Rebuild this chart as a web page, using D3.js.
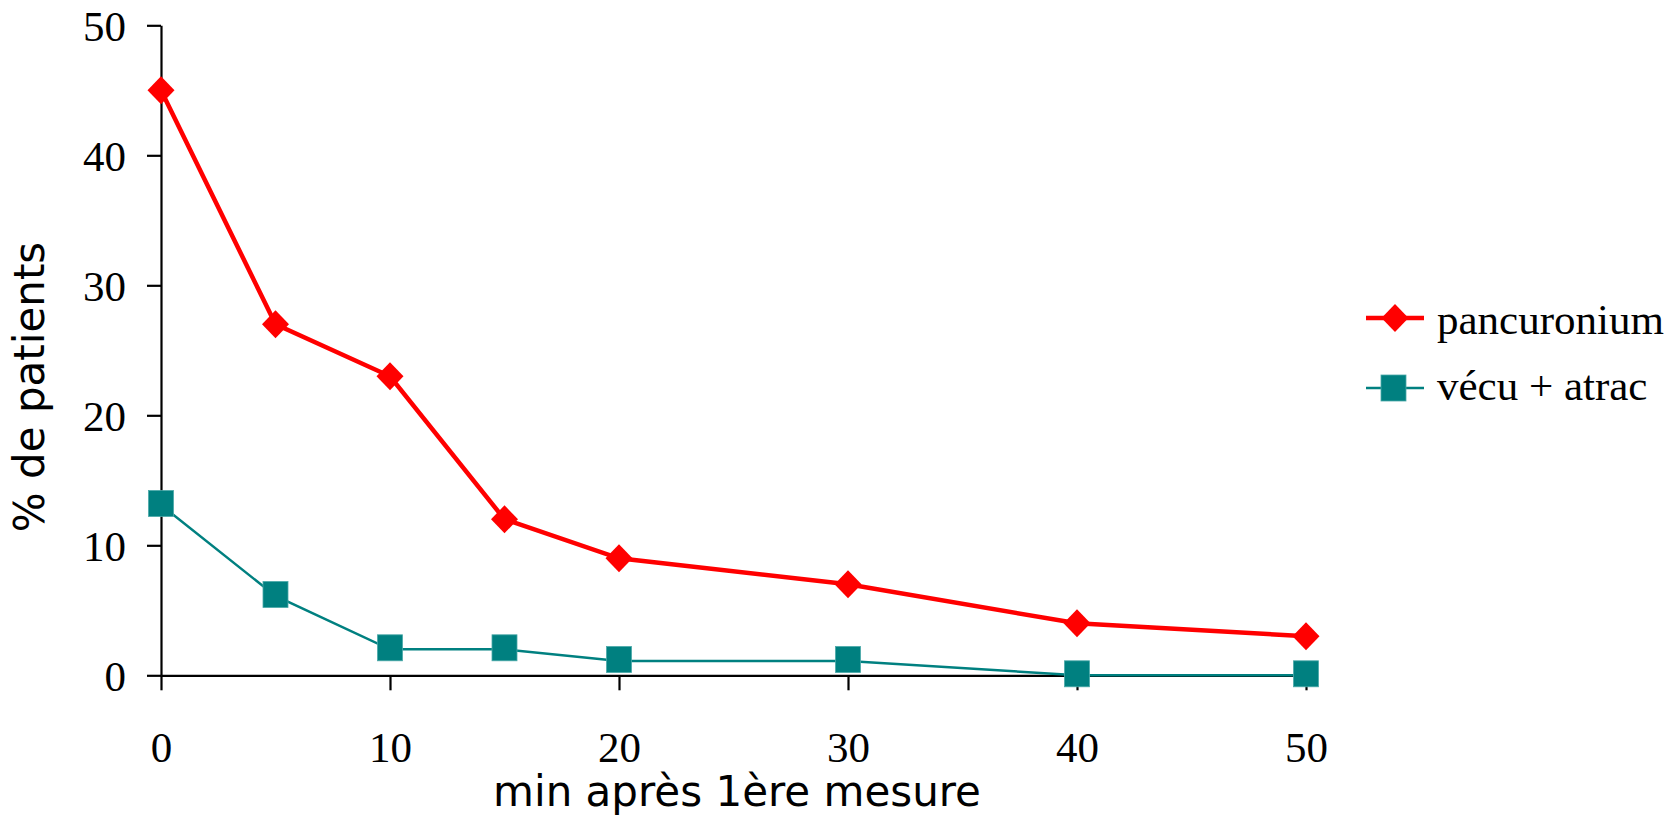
<!DOCTYPE html>
<html>
<head>
<meta charset="utf-8">
<script src="https://cdn.jsdelivr.net/npm/d3@7"></script>
<style>
  body { margin: 0; background: #fff; }
</style>
</head>
<body>
<div id="chart"></div>
<script>
// data
var minutes = [0, 5, 10, 15, 20, 30, 40, 50];
var pancuronium = [45, 27, 23, 12, 9, 7, 4, 3];
var vecuAtrac = [13.1, 6.1, 2, 2, 1.1, 1.1, 0, 0];
var xTicks = [0, 10, 20, 30, 40, 50];
var yTicks = [0, 10, 20, 30, 40, 50];
var seriesNames = ["pancuronium", "vécu + atrac"];

var width = 1680, height = 815;

var svg = d3.select("#chart")
  .append("svg")
    .attr("width", width)
    .attr("height", height);

var x = d3.scaleLinear().domain([0, 50]).range([161, 1306]);
var y = d3.scaleLinear().domain([0, 50]).range([675.3, 25.3]);

var serif = "'Liberation Serif', 'Times New Roman', serif";
var sans = "'DejaVu Sans', Verdana, sans-serif";

// x axis
var gx = svg.append("g")
  .attr("transform", "translate(0," + y(0) + ")")
  .call(d3.axisBottom(x).tickValues(xTicks).tickSize(15).tickSizeOuter(0).tickFormat(d3.format("d")));
gx.selectAll("text")
  .attr("y", 87)
  .attr("dy", 0)
  .style("font-family", serif)
  .style("font-size", "43px")
  .attr("fill", "#000");

// y axis
var gy = svg.append("g")
  .attr("transform", "translate(" + x(0) + ",0)")
  .call(d3.axisLeft(y).tickValues(yTicks).tickSize(14).tickSizeOuter(0).tickFormat(d3.format("d")));
gy.selectAll("text")
  .attr("x", -35)
  .attr("dy", "0.36em")
  .style("font-family", serif)
  .style("font-size", "43px")
  .attr("fill", "#000");

svg.selectAll(".domain, .tick line")
  .attr("stroke", "#000")
  .attr("stroke-width", 2.2);

// axis titles
svg.append("text")
  .attr("x", 737)
  .attr("y", 806)
  .attr("text-anchor", "middle")
  .style("font-family", sans)
  .style("font-size", "42px")
  .text("min après 1ère mesure");

svg.append("text")
  .attr("transform", "translate(44,387) rotate(-90)")
  .attr("text-anchor", "middle")
  .style("font-family", sans)
  .style("font-size", "42px")
  .text("% de patients");

var line = d3.line()
  .x(function(d) { return x(d[0]); })
  .y(function(d) { return y(d[1]); });

var redPts = minutes.map(function(m, i) { return [m, pancuronium[i]]; });
var tealPts = minutes.map(function(m, i) { return [m, vecuAtrac[i]]; });

// teal series
svg.append("path")
  .datum(tealPts)
  .attr("d", line)
  .attr("fill", "none")
  .attr("stroke", "#008080")
  .attr("stroke-width", 2.5);

svg.append("g")
  .selectAll("rect")
  .data(tealPts)
  .enter()
  .append("rect")
    .attr("x", function(d) { return x(d[0]) - 12.5; })
    .attr("y", function(d) { return y(d[1]) - 14.5; })
    .attr("width", 25)
    .attr("height", 26)
    .attr("fill", "#008080")
    .attr("stroke", "#4aa8a8")
    .attr("stroke-width", 0.8);

// red series
svg.append("path")
  .datum(redPts)
  .attr("d", line)
  .attr("fill", "none")
  .attr("stroke", "#ff0000")
  .attr("stroke-width", 4.5);

var diamond = function(cx, cy) {
  return "M" + cx + "," + (cy - 14) + "L" + (cx + 13.5) + "," + cy +
         "L" + cx + "," + (cy + 14) + "L" + (cx - 13.5) + "," + cy + "Z";
};

svg.append("g")
  .selectAll("path")
  .data(redPts)
  .enter()
  .append("path")
    .attr("d", function(d) { return diamond(x(d[0]), y(d[1])); })
    .attr("fill", "#ff0000");

// legend
var legend = svg.append("g");
var legY = [318, 388];

legend.append("line")
  .attr("x1", 1366).attr("x2", 1424)
  .attr("y1", legY[0]).attr("y2", legY[0])
  .attr("stroke", "#ff0000").attr("stroke-width", 4.5);
legend.append("path")
  .attr("d", diamond(1395, legY[0]))
  .attr("fill", "#ff0000");

legend.append("line")
  .attr("x1", 1366).attr("x2", 1424)
  .attr("y1", legY[1]).attr("y2", legY[1])
  .attr("stroke", "#008080").attr("stroke-width", 2.5);
legend.append("rect")
  .attr("x", 1381).attr("y", legY[1] - 13)
  .attr("width", 25).attr("height", 26)
  .attr("fill", "#008080")
  .attr("stroke", "#4aa8a8").attr("stroke-width", 0.8);

legend.selectAll("text")
  .data(seriesNames)
  .enter()
  .append("text")
    .attr("x", 1437)
    .attr("y", function(d, i) { return [334, 400][i]; })
    .style("font-family", serif)
    .style("font-size", "43px")
    .text(function(d) { return d; });
</script>
</body>
</html>
